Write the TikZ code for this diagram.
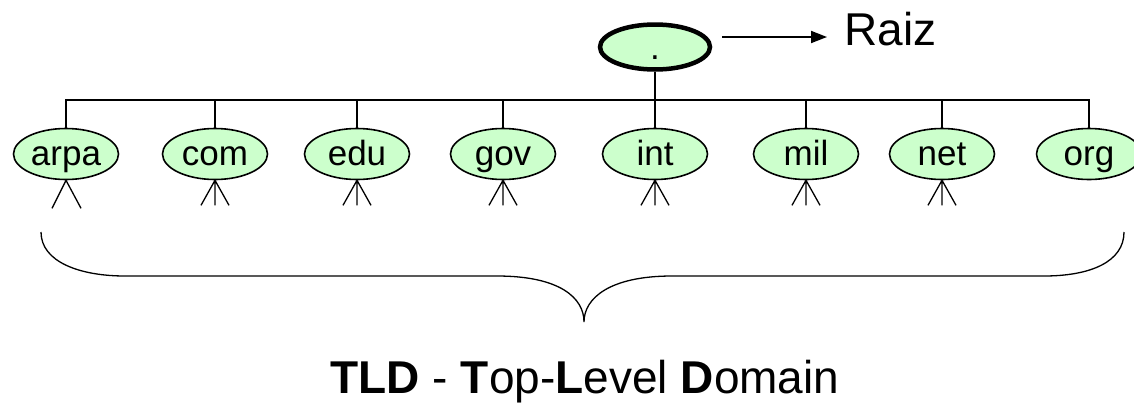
\documentclass[tikz,border=0pt]{standalone}
\usepackage{fontspec}
\setmainfont{Liberation Sans}
\usetikzlibrary{arrows.meta}
\usetikzlibrary{shapes.geometric}
\usetikzlibrary{positioning}
\tikzset{dom/.style = {ellipse, draw, fill=mgreen, line width=1.6, inner sep=0,
                       minimum width=105, minimum height=51,
                       font=\fontsize{35}{42}\selectfont,
                       text height=23, text depth=-9}}
\tikzset{top/.style = {dom, line width=4.5, minimum width=110, minimum height=45,
                       text height=24, text depth=-8}}
\tikzset{bus/.style = {line width=2}}
\tikzset{leg/.style = {line width=1.3}}
\tikzset{arr/.style = {line width=1.8, -{Triangle[length=16, width=12]}}}
\definecolor{mgreen}{rgb}{0.8, 1, 0.8}

\begin{document}
\begin{tikzpicture}[x=1pt, y=-1pt]
    \useasboundingbox (0, 0) rectangle (1134, 402);

    \node [top] (root) at (655, 47) {.};
    \node [anchor=base west, inner sep=0, font=\fontsize{46}{55}\selectfont] (raiz) at (844, 45) {Raiz};
    \coordinate (tail) at (722, 37);
    \coordinate (head) at (827, 37);
    \draw [arr] (tail) -- (head);

    \node [dom] (arpa) at (66, 154) {arpa};
    \node [dom] (com) at (215, 154) {com};
    \node [dom] (edu) at (357, 154) {edu};
    \node [dom] (gov) at (503, 154) {gov};
    \node [dom] (int) at (655, 154) {int};
    \node [dom] (mil) at (806, 154) {mil};
    \node [dom] (net) at (942, 154) {net};
    \node [dom] (org) at (1089, 154) {org};

    \coordinate (bus) at (655, 100);
    \draw [bus] (root.south) -- (bus);
    \draw [bus] (arpa.north) -- (arpa.north |- bus) -- (org.north |- bus) -- (org.north);
    \draw [bus] (com.north) -- (com.north |- bus);
    \draw [bus] (edu.north) -- (edu.north |- bus);
    \draw [bus] (gov.north) -- (gov.north |- bus);
    \draw [bus] (int.north) -- (int.north |- bus);
    \draw [bus] (mil.north) -- (mil.north |- bus);
    \draw [bus] (net.north) -- (net.north |- bus);

    % subdomains
    \draw [leg] (arpa.south) -- ++(-14, 28) (arpa.south) -- ++(15, 28);
    \draw [leg] (com.south) -- ++(-14, 25) (com.south) -- ++(0, 25) (com.south) -- ++(14, 25);
    \draw [leg] (edu.south) -- ++(-14, 25) (edu.south) -- ++(0, 25) (edu.south) -- ++(14, 25);
    \draw [leg] (gov.south) -- ++(-14, 25) (gov.south) -- ++(0, 25) (gov.south) -- ++(14, 25);
    \draw [leg] (int.south) -- ++(-14, 25) (int.south) -- ++(0, 25) (int.south) -- ++(14, 25);
    \draw [leg] (mil.south) -- ++(-14, 25) (mil.south) -- ++(0, 25) (mil.south) -- ++(14, 25);
    \draw [leg] (net.south) -- ++(-14, 25) (net.south) -- ++(0, 25) (net.south) -- ++(14, 25);

    % brace
    \draw [leg] (41, 232) .. controls (41, 262) and (80, 276) .. (125, 276) -- (497, 276)
                .. controls (560, 276) and (584, 298) .. (584, 322)
                .. controls (584, 298) and (610, 276) .. (672, 276) -- (1044, 276)
                .. controls (1090, 276) and (1124, 262) .. (1124, 232);

    \node [anchor=base, inner sep=0, font=\fontsize{46}{55}\selectfont] (tld) at (585, 393)
          {\textbf{TLD} - \textbf{T}op-\textbf{L}evel \textbf{D}omain};
  \end{tikzpicture}
\end{document}
